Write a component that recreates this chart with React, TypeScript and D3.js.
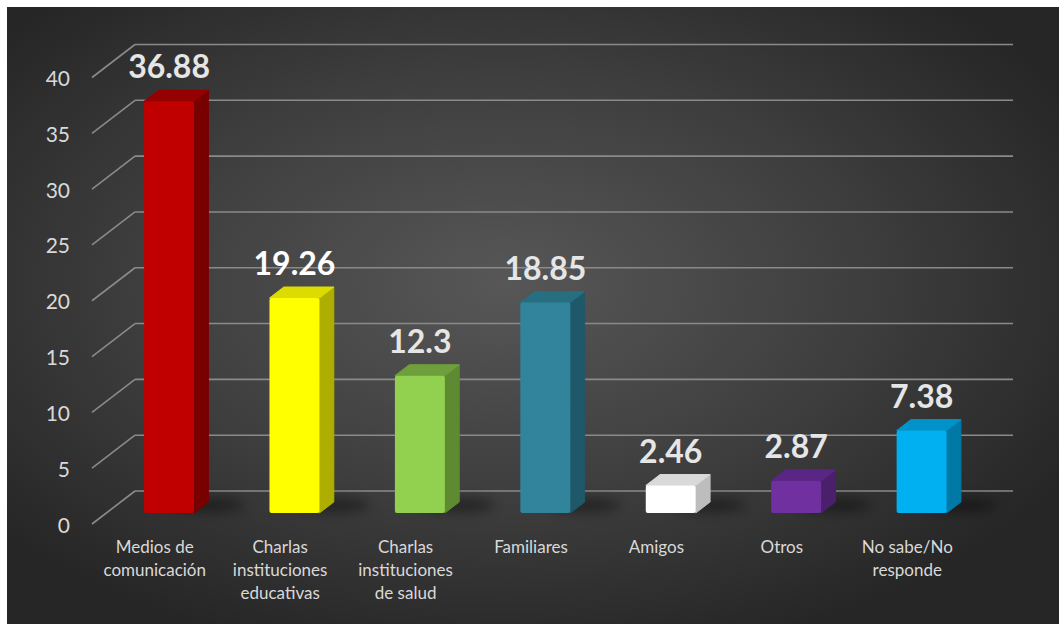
import React from "react";
import * as d3 from "d3";

const categories = [
  ["Medios de", "comunicación"],
  ["Charlas", "instituciones", "educativas"],
  ["Charlas", "instituciones", "de salud"],
  ["Familiares"],
  ["Amigos"],
  ["Otros"],
  ["No sabe/No", "responde"],
];
const values = [36.88, 19.26, 12.3, 18.85, 2.46, 2.87, 7.38];
const valueLabels = ["36.88", "19.26", "12.3", "18.85", "2.46", "2.87", "7.38"];
const ticks = [0, 5, 10, 15, 20, 25, 30, 35, 40];
const frontColors = ["#c00000", "#ffff00", "#92d050", "#31849b", "#ffffff", "#7030a0", "#00b0f0"];
const sideColors = ["#780000", "#aeae00", "#5e8a32", "#1f5868", "#bdbdbd", "#4a1f6c", "#0079a6"];
const topColors = ["#950000", "#dcdc00", "#6f9e3c", "#276e80", "#d9d9d9", "#5a2686", "#0093c9"];
const labelColors = ["#e6e6e6", "#ffffff", "#e6e6e6", "#e6e6e6", "#e6e6e6", "#e6e6e6", "#e6e6e6"];

const W = 1059;
const H = 624;
const DX = 43; // full depth x offset (front = back - DX)
const DY = 33;

export default function App() {
  const keys = categories.map((c) => c.join(" "));
  const x = d3.scaleBand<string>().domain(keys).range([135, 1013]).padding(0);
  const y = d3.scaleLinear().domain([0, 40]).range([491, 44.5]);
  const barW = 50;
  const fFront = 2 / 3;
  const fBack = 1 / 3;

  return (
    <div style={{ position: "fixed", left: 0, top: 0, width: W, height: H, overflow: "hidden", background: "#fff" }}>
      <svg width={W} height={H} style={{ display: "block" }}>
        <defs>
          <radialGradient id="bg" cx="0.47" cy="0.45" r="0.62">
            <stop offset="0" stopColor="#575757" />
            <stop offset="0.55" stopColor="#3e3e3e" />
            <stop offset="1" stopColor="#262626" />
          </radialGradient>
          <filter id="shadow" x="-50%" y="-200%" width="200%" height="500%">
            <feGaussianBlur stdDeviation="6" />
          </filter>
        </defs>
        <rect x={7} y={7} width={W - 7} height={H - 7} fill="url(#bg)" />

        {ticks.map((t) => (
          <g key={t}>
            <line x1={135} x2={1013} y1={y(t)} y2={y(t)} stroke="#8a8a8a" strokeWidth={1.6} />
            <line x1={135 - DX} x2={135} y1={y(t) + DY} y2={y(t)} stroke="#8a8a8a" strokeWidth={1.6} />
            <text
              x={70}
              y={y(t) + DY}
              textAnchor="end"
              dominantBaseline="central"
              fontFamily="Lato, 'Open Sans', sans-serif"
              fontSize={21}
              fill="#d9d9d9"
            >
              {t}
            </text>
          </g>
        ))}

        {keys.map((k, i) => {
          const cx = x(k)! + x.bandwidth() / 2;
          const fx = cx - DX * fFront - barW / 2;
          const fyB = y(0) + DY * fFront;
          const fyT = y(values[i]) + DY * fFront;
          const ox = DX * (fFront - fBack);
          const oy = DY * (fFront - fBack);
          const side = `M${fx + barW},${fyT} L${fx + barW + ox},${fyT - oy} L${fx + barW + ox},${fyB - oy} L${fx + barW},${fyB} Z`;
          const top = `M${fx},${fyT} L${fx + ox},${fyT - oy} L${fx + barW + ox},${fyT - oy} L${fx + barW},${fyT} Z`;
          return (
            <g key={k}>
              <ellipse
                cx={fx + barW + 14}
                cy={fyB - 8}
                rx={36}
                ry={7}
                fill="#000"
                opacity={0.4}
                filter="url(#shadow)"
              />
              <path d={side} fill={sideColors[i]} stroke={sideColors[i]} strokeWidth={1} strokeLinejoin="round" />
              <path d={top} fill={topColors[i]} stroke={topColors[i]} strokeWidth={1} strokeLinejoin="round" />
              <rect x={fx} y={fyT} width={barW} height={fyB - fyT} rx={2} fill={frontColors[i]} />
              <text
                x={fx + barW / 2}
                y={fyT - 23}
                textAnchor="middle"
                fontFamily="Lato, 'Open Sans', sans-serif"
                fontWeight={700}
                fontSize={32}
                fill={labelColors[i]}
              >
                {valueLabels[i]}
              </text>
              <text
                textAnchor="middle"
                fontFamily="Lato, 'Open Sans', sans-serif"
                fontSize={17}
                fill="#d9d9d9"
              >
                {categories[i].map((line, j) => (
                  <tspan key={j} x={cx - DX} y={553 + j * 23}>
                    {line}
                  </tspan>
                ))}
              </text>
            </g>
          );
        })}
      </svg>
    </div>
  );
}
